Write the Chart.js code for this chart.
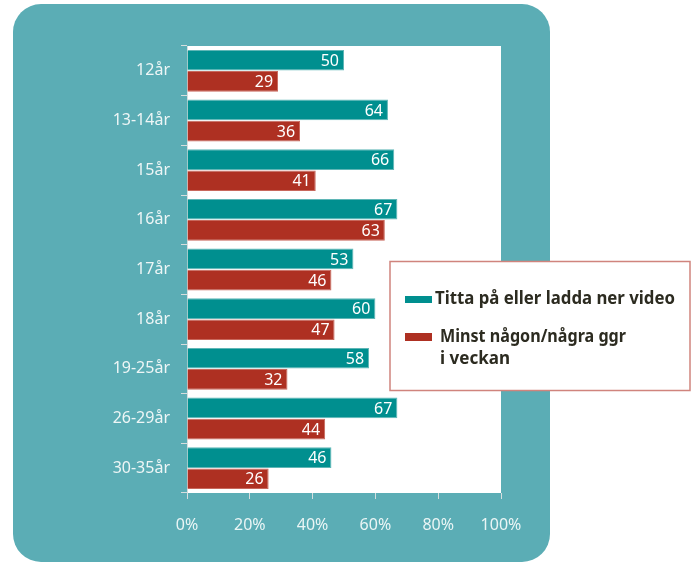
<!DOCTYPE html>
<html>
<head>
<meta charset="utf-8">
<script src="https://cdn.jsdelivr.net/npm/chart.js@4/dist/chart.umd.min.js"></script>
<style>
html, body { margin: 0; padding: 0; background: #fff; }
#wrap { width: 693px; height: 563px; }
</style>
</head>
<body>
<div id="wrap"><canvas id="chart" width="693" height="563"></canvas></div>
<script>
// data
var categories = ['12år', '13-14år', '15år', '16år', '17år', '18år', '19-25år', '26-29år', '30-35år'];
var videoValues = [50, 64, 66, 67, 53, 60, 58, 67, 46];
var weeklyValues = [29, 36, 41, 63, 46, 47, 32, 44, 26];
var seriesNames = ['Titta på eller ladda ner video', 'Minst någon/några ggr i veckan'];
var legendLines = [['Titta på eller ladda ner video'], ['Minst någon/några ggr', 'i veckan']];

var teal = '#008f8f';
var red = '#ae3022';
var panel = '#5badb5';
var font = '"Noto Sans", sans-serif';

// bakgrund: rundad panel + vit plotyta
var backgroundPlugin = {
  id: 'panelBg',
  beforeDraw: function(chart) {
    var ctx = chart.ctx;
    var a = chart.chartArea;
    ctx.save();
    ctx.fillStyle = panel;
    ctx.beginPath();
    ctx.roundRect(13, 4, 537, 558, 28);
    ctx.fill();
    ctx.fillStyle = '#fff';
    ctx.fillRect(a.left, a.top, a.right - a.left, a.bottom - a.top);
    ctx.restore();
  }
};

// värden i slutet av staplarna
var valuePlugin = {
  id: 'values',
  afterDatasetsDraw: function(chart) {
    var ctx = chart.ctx;
    ctx.save();
    ctx.font = '16px ' + font;
    ctx.fillStyle = '#fff';
    ctx.textAlign = 'right';
    ctx.textBaseline = 'middle';
    chart.data.datasets.forEach(function(ds, i) {
      chart.getDatasetMeta(i).data.forEach(function(bar, j) {
        ctx.fillText(ds.data[j], bar.x - 5, bar.y + 1);
      });
    });
    ctx.restore();
  }
};

// egen legend-ruta
var legendPlugin = {
  id: 'boxLegend',
  afterDraw: function(chart) {
    var ctx = chart.ctx;
    ctx.save();
    ctx.fillStyle = '#fff';
    ctx.fillRect(390, 261, 300, 129);
    ctx.strokeStyle = '#d0847d';
    ctx.lineWidth = 1.5;
    ctx.strokeRect(390, 261.5, 300, 129);

    ctx.fillStyle = chart.data.datasets[0].backgroundColor;
    ctx.fillRect(405, 296, 27, 7);
    ctx.fillStyle = chart.data.datasets[1].backgroundColor;
    ctx.fillRect(405, 333, 27, 8);

    ctx.fillStyle = '#2c2b20';
    ctx.font = 'bold 18px ' + font;
    ctx.textBaseline = 'alphabetic';
    ctx.fillText(legendLines[0][0], 435, 304, 240);
    ctx.fillText(legendLines[1][0], 440, 342, 186);
    ctx.fillText(legendLines[1][1], 440, 364, 70);
    ctx.restore();
  }
};

var chart = new Chart(document.getElementById('chart'), {
  type: 'bar',
  data: {
    labels: categories,
    datasets: [{
      label: seriesNames[0],
      data: videoValues,
      backgroundColor: teal,
      borderColor: '#5fb6b6',
      borderWidth: 1,
      categoryPercentage: 0.85,
      barPercentage: 0.98
    }, {
      label: seriesNames[1],
      data: weeklyValues,
      backgroundColor: red,
      borderColor: '#c8685c',
      borderWidth: 1,
      categoryPercentage: 0.85,
      barPercentage: 0.98
    }]
  },
  options: {
    indexAxis: 'y',
    responsive: false,
    animation: false,
    devicePixelRatio: 1,
    layout: { padding: { top: 46, right: 192, bottom: 0, left: 0 } },
    plugins: {
      legend: { display: false },
      tooltip: { enabled: false }
    },
    scales: {
      x: {
        min: 0,
        max: 100,
        afterFit: function(s) { s.height = 70; },
        ticks: {
          stepSize: 20,
          color: '#eaf5f5',
          padding: 17,
          font: { family: font, size: 16 },
          callback: function(v) { return v + '%'; }
        },
        grid: { drawOnChartArea: false, tickLength: 6, color: '#d6dede' },
        border: { display: false }
      },
      y: {
        afterFit: function(s) { s.width = 187; },
        ticks: {
          color: '#eef6f6',
          padding: 11,
          font: { family: font, size: 16 }
        },
        grid: { drawOnChartArea: false, offset: true, tickLength: 6, color: '#d6dede' },
        border: { color: '#d6dede' }
      }
    }
  },
  plugins: [backgroundPlugin, valuePlugin, legendPlugin]
});
</script>
</body>
</html>
